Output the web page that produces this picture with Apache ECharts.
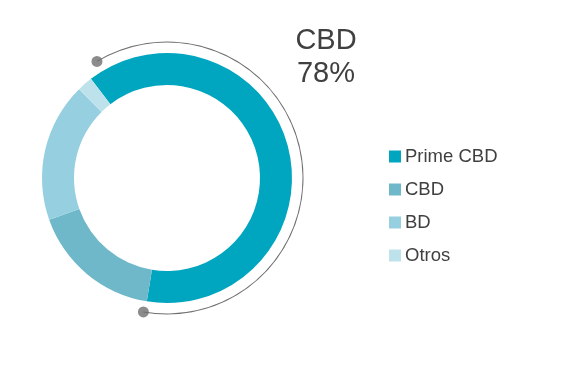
<!DOCTYPE html>
<html><head><meta charset="utf-8">
<script src="https://cdn.jsdelivr.net/npm/echarts@6/dist/echarts.min.js"></script>
<style>html,body{margin:0;padding:0;background:#fff}#c{width:585px;height:368px}</style>
</head><body><div id="c"></div>
<script>
const categories = ['Prime CBD', 'CBD', 'BD', 'Otros'];
const values = [63, 17, 18, 2];
const colors = ['#00A6BF', '#6FB8C9', '#96CFE0', '#BDE2EB'];
const calloutLabel = 'CBD';
const calloutValue = '78%';
const arcAngles = [329, 190]; // degrees clockwise from 12 o'clock (start, end)

const chart = echarts.init(document.getElementById('c'), null, {renderer: 'canvas'});
const center = [167, 178];
const arcSpan = (arcAngles[1] - arcAngles[0] + 360) % 360;
const FONT = 'Liberation Sans, Arial, sans-serif';
chart.setOption({
  animation: false,
  graphic: [{
    type: 'text', x: 326, y: 24, silent: true,
    style: {text: calloutLabel + '\n' + calloutValue, textAlign: 'center', textVerticalAlign: 'top',
      font: '29px ' + FONT, fill: '#404040', lineHeight: 33}
  }],
  legend: {
    orient: 'vertical', left: 384, top: 142,
    itemWidth: 12, itemHeight: 12, itemGap: 14, icon: 'rect',
    textStyle: {fontFamily: FONT, fontSize: 18.5, lineHeight: 19, color: '#404040', padding: [0,0,0,-1]},
    data: categories
  },
  polar: {center: center, radius: 136},
  angleAxis: {type: 'value', min: 0, max: 360, startAngle: 90, clockwise: true, show: false},
  radiusAxis: {type: 'value', min: 0, max: 1, show: false},
  series: [
    {
      type: 'pie', radius: [93, 125], center: center,
      startAngle: 127.5, clockwise: true,
      label: {show: false}, labelLine: {show: false}, silent: true,
      itemStyle: {borderWidth: 0},
      data: categories.map((n, i) => ({name: n, value: values[i], itemStyle: {color: colors[i]}}))
    },
    {
      type: 'pie', radius: [135.5, 136.5], center: center,
      startAngle: 90 + (360 - arcAngles[0]), clockwise: true, silent: true,
      label: {show: false}, labelLine: {show: false},
      legendHoverLink: false,
      data: [
        {name: 'arc', value: arcSpan, itemStyle: {color: '#6f6f6f'}},
        {name: 'rest', value: 360 - arcSpan, itemStyle: {color: 'rgba(0,0,0,0)'}}
      ]
    },
    {
      type: 'scatter', coordinateSystem: 'polar', symbolSize: 11, silent: true,
      itemStyle: {color: '#6f6f6f'},
      data: arcAngles.map(a => [1, a])
    }
  ]
});
</script></body></html>
